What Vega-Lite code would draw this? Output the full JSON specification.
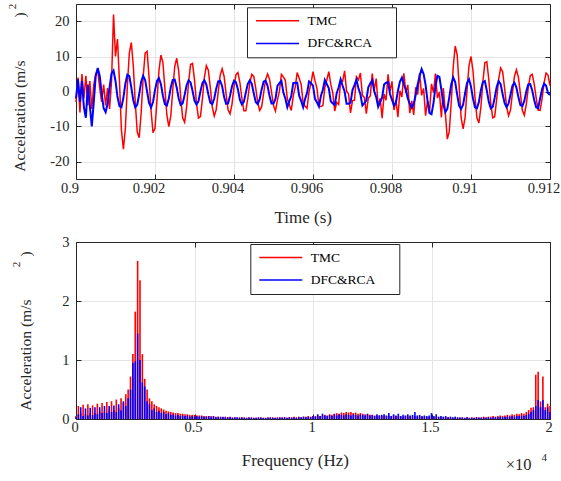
{
  "$schema": "https://vega.github.io/schema/vega-lite/v6.json",
  "autosize": {"type": "pad"},
  "padding": {"left": 6, "top": 3, "right": 0, "bottom": 0},
  "bounds": "flush",
  "spacing": 63,
  "background": "white",
  "config": {
    "font": "Liberation Serif",
    "axis": {
      "domainColor": "#262626", "domainWidth": 1,
      "tickColor": "#262626", "tickSize": -5, "tickWidth": 1,
      "labelFont": "Liberation Serif", "labelFontSize": 14.5, "labelColor": "#262626",
      "titleFont": "Liberation Serif", "titleColor": "#262626", "titleFontWeight": "normal",
      "gridColor": "#e4e4e4", "gridWidth": 1
    },
    "legend": {
      "orient": "none", "titleOrient": "right", "titlePadding": 0, "titleFontSize": 9.6, "titleOpacity": 0, "titleFontWeight": "normal",
      "symbolType": "stroke", "symbolSize": 1849, "symbolStrokeWidth": 1.5, "symbolOffset": 2.5,
      "clipHeight": 16, "rowPadding": 6.6, "padding": 5.5,
      "labelFont": "Liberation Serif", "labelFontSize": 13.5, "labelColor": "#000000", "labelOffset": 7.5,
      "fillColor": "white", "strokeColor": "#262626"
    },
    "view": {"stroke": null}
  },
  "resolve": {"scale": {"color": "independent"}, "legend": {"color": "independent"}},
  "vconcat": [
    {
      "width": 474,
      "height": 175,
      "data": {"values": [
{"t":0.9,"r":-3,"b":-2},{"t":0.90005,"r":4,"b":3.5},{"t":0.9001,"r":-6,"b":-3},{"t":0.90015,"r":5,"b":3},{"t":0.9002,"r":-2,"b":-4.5},
{"t":0.90025,"r":4.5,"b":-7.5},{"t":0.9003,"r":-4,"b":2},{"t":0.90035,"r":3,"b":-4},{"t":0.9004,"r":-5,"b":-10},{"t":0.90045,"r":2,"b":-3},
{"t":0.9005,"r":5,"b":4.5},{"t":0.90055,"r":6,"b":6.7},{"t":0.9006,"r":1,"b":4.5},{"t":0.90065,"r":-3,"b":-0.5},{"t":0.9007,"r":2,"b":-4.8},
{"t":0.90075,"r":-4,"b":-5.9},{"t":0.9008,"r":1,"b":-3.5},{"t":0.90085,"r":-5,"b":1.2},{"t":0.9009,"r":3,"b":5.2},{"t":0.90095,"r":22,"b":6},
{"t":0.901,"r":10,"b":3},{"t":0.90105,"r":15,"b":-1.5},{"t":0.9011,"r":3,"b":-4.2},{"t":0.90115,"r":-11,"b":-4.5},{"t":0.9012,"r":-16.5,"b":-1.8},
{"t":0.90125,"r":-10.5,"b":2.2},{"t":0.9013,"r":1.5,"b":4.8},{"t":0.90135,"r":11,"b":4.4},{"t":0.9014,"r":14,"b":1.2},{"t":0.90145,"r":7.5,"b":-2.5},
{"t":0.9015,"r":-3,"b":-4.5},{"t":0.90155,"r":-11.5,"b":-3.8},{"t":0.9016,"r":-13.2,"b":-0.8},{"t":0.90165,"r":-6,"b":2.8},{"t":0.9017,"r":4,"b":4.5},
{"t":0.90175,"r":11,"b":3.3},{"t":0.9018,"r":11.5,"b":0},{"t":0.90185,"r":4,"b":-3.3},{"t":0.9019,"r":-5.5,"b":-4.6},{"t":0.90195,"r":-11.8,"b":-3},
{"t":0.902,"r":-10.5,"b":0.4},{"t":0.90205,"r":-2.5,"b":3},{"t":0.9021,"r":6,"b":3.8},{"t":0.90215,"r":10.4,"b":2.1},{"t":0.9022,"r":8.3,"b":-1.2},
{"t":0.90225,"r":1,"b":-3.6},{"t":0.9023,"r":-6.7,"b":-4},{"t":0.90235,"r":-10,"b":-2},{"t":0.9024,"r":-7,"b":1.2},{"t":0.90245,"r":0.5,"b":3.3},
{"t":0.9025,"r":7.2,"b":3.4},{"t":0.90255,"r":9.5,"b":1.1},{"t":0.9026,"r":5.8,"b":-2},{"t":0.90265,"r":-1.5,"b":-3.8},{"t":0.9027,"r":-7.5,"b":-3.4},
{"t":0.90275,"r":-8.8,"b":-1},{"t":0.9028,"r":-4.5,"b":1.8},{"t":0.90285,"r":2.5,"b":3.2},{"t":0.9029,"r":7.7,"b":2.6},{"t":0.90295,"r":8,"b":0.2},
{"t":0.903,"r":3.3,"b":-2.6},{"t":0.90305,"r":-3.3,"b":-3.7},{"t":0.9031,"r":-7.6,"b":-2.8},{"t":0.90315,"r":-7.2,"b":0},{"t":0.9032,"r":-2.2,"b":2.4},
{"t":0.90325,"r":4,"b":3.2},{"t":0.9033,"r":7.4,"b":2},{"t":0.90335,"r":6.1,"b":-0.8},{"t":0.9034,"r":1.1,"b":-3.2},{"t":0.90345,"r":-4.4,"b":-3.6},
{"t":0.9035,"r":-7,"b":-2},{"t":0.90355,"r":-5.2,"b":0.8},{"t":0.9036,"r":-0.2,"b":2.9},{"t":0.90365,"r":4.6,"b":3},{"t":0.9037,"r":6.5,"b":1.5},
{"t":0.90375,"r":4.3,"b":-1.6},{"t":0.9038,"r":-0.7,"b":-3.5},{"t":0.90385,"r":-5.2,"b":-3.4},{"t":0.9039,"r":-6.4,"b":-1.2},{"t":0.90395,"r":-3.6,"b":1.5},
{"t":0.904,"r":1.3,"b":3.1},{"t":0.90405,"r":4.8,"b":2.6},{"t":0.9041,"r":5.4,"b":0.6},{"t":0.90415,"r":2.5,"b":-2.4},{"t":0.9042,"r":-2,"b":-3.7},
{"t":0.90425,"r":-5.5,"b":-2.9},{"t":0.9043,"r":-5.5,"b":-0.3},{"t":0.90435,"r":-2,"b":2.2},{"t":0.9044,"r":2.4,"b":3.2},{"t":0.90445,"r":4.9,"b":2.2},
{"t":0.9045,"r":4.3,"b":-0.5},{"t":0.90455,"r":1,"b":-3},{"t":0.9046,"r":-3.1,"b":-3.6},{"t":0.90465,"r":-5.4,"b":-2.2},{"t":0.9047,"r":-4.4,"b":0.6},
{"t":0.90475,"r":-0.5,"b":2.8},{"t":0.9048,"r":3.4,"b":3.1},{"t":0.90485,"r":5,"b":1.6},{"t":0.9049,"r":3.5,"b":-1.3},{"t":0.90495,"r":-0.2,"b":-3.4},
{"t":0.905,"r":-4,"b":-3.4},{"t":0.90505,"r":-5.6,"b":-2.1},{"t":0.9051,"r":-2.4,"b":1.6},{"t":0.90515,"r":0.1,"b":2.4},{"t":0.9052,"r":4.9,"b":3},
{"t":0.90525,"r":4.2,"b":-0.3},{"t":0.9053,"r":3.2,"b":-2},{"t":0.90535,"r":-2.1,"b":-4.5},{"t":0.9054,"r":-3.8,"b":-2.8},{"t":0.90545,"r":-5.4,"b":-1.3},
{"t":0.9055,"r":-1.3,"b":2.4},{"t":0.90555,"r":1.3,"b":2.5},{"t":0.9056,"r":5.4,"b":2.5},{"t":0.90565,"r":3.8,"b":-1.2},{"t":0.9057,"r":2.1,"b":-2.7},
{"t":0.90575,"r":-3.3,"b":-4.5},{"t":0.9058,"r":-4.2,"b":-2.1},{"t":0.90585,"r":-4.8,"b":-0.4},{"t":0.9059,"r":0,"b":2.9},{"t":0.90595,"r":2.4,"b":2.4},
{"t":0.906,"r":5.7,"b":1.7},{"t":0.90605,"r":3.1,"b":-2.1},{"t":0.9061,"r":0.9,"b":-3.1},{"t":0.90615,"r":-4.2,"b":-4.3},{"t":0.9062,"r":-4.3,"b":-1.3},
{"t":0.90625,"r":-4,"b":0.5},{"t":0.9063,"r":1.2,"b":3.3},{"t":0.90635,"r":3.3,"b":2.1},{"t":0.9064,"r":5.7,"b":0.9},{"t":0.90645,"r":2.1,"b":-2.8},
{"t":0.9065,"r":-0.4,"b":-3.4},{"t":0.90655,"r":-5.6,"b":-3.8},{"t":0.9066,"r":-3.1,"b":-0.5},{"t":0.90665,"r":-3.7,"b":1.2},{"t":0.9067,"r":3.1,"b":3.5},
{"t":0.90675,"r":2.9,"b":1.6},{"t":0.9068,"r":5.9,"b":0},{"t":0.90685,"r":0.1,"b":-3.5},{"t":0.9069,"r":-0.7,"b":-3.5},{"t":0.90695,"r":-6.1,"b":-3.2},
{"t":0.907,"r":-2.6,"b":0.4},{"t":0.90705,"r":-2.5,"b":1.8},{"t":0.9071,"r":4.2,"b":3.4},{"t":0.90715,"r":3.3,"b":0.9},{"t":0.9072,"r":5.3,"b":-0.8},
{"t":0.90725,"r":-1.1,"b":-4},{"t":0.9073,"r":-1.7,"b":-3.3},{"t":0.90735,"r":-6.3,"b":-2.5},{"t":0.9074,"r":-1.9,"b":1.2},{"t":0.90745,"r":-1.3,"b":2.3},
{"t":0.9075,"r":5.1,"b":3.2},{"t":0.90755,"r":0.3,"b":0.1},{"t":0.9076,"r":3.7,"b":-1.6},{"t":0.90765,"r":-4.3,"b":-4.4},{"t":0.9077,"r":-2,"b":-3},
{"t":0.90775,"r":-7.6,"b":-1.7},{"t":0.9078,"r":-0.7,"b":2},{"t":0.90785,"r":-2.5,"b":2.5},{"t":0.9079,"r":4.9,"b":2.7},{"t":0.90795,"r":0.1,"b":-0.7},
{"t":0.908,"r":2.9,"b":-2.4},{"t":0.90805,"r":-5.3,"b":-4},{"t":0.9081,"r":-2.5,"b":-3.2},{"t":0.90815,"r":-7.3,"b":0.2},{"t":0.9082,"r":0.2,"b":2.8},
{"t":0.90825,"r":-1.6,"b":4},{"t":0.9083,"r":5.2,"b":2},{"t":0.90835,"r":-0.4,"b":0.5},{"t":0.9084,"r":1.9,"b":-2},{"t":0.90845,"r":-6.2,"b":-3.5},
{"t":0.9085,"r":-2.7,"b":-4.6},{"t":0.90855,"r":-6.7,"b":-3.5},{"t":0.9086,"r":1.2,"b":-1},{"t":0.90865,"r":-0.9,"b":2},{"t":0.9087,"r":5.3,"b":4.5},
{"t":0.90875,"r":-1.1,"b":6.4},{"t":0.9088,"r":0.9,"b":5},{"t":0.90885,"r":-6.9,"b":1.9},{"t":0.9089,"r":-2.7,"b":-2.7},{"t":0.90895,"r":-5.9,"b":-6.2},
{"t":0.909,"r":2.2,"b":-6.5},{"t":0.90905,"r":-0.3,"b":-3.3},{"t":0.9091,"r":5.1,"b":1.4},{"t":0.90915,"r":-1.9,"b":4.5},{"t":0.9092,"r":-0.1,"b":4.2},
{"t":0.90925,"r":-7.4,"b":0.5},{"t":0.9093,"r":1,"b":-3.6},{"t":0.90935,"r":-6,"b":-5.9},{"t":0.9094,"r":-13.6,"b":-5},{"t":0.90945,"r":-11.5,"b":-1.7},
{"t":0.9095,"r":-3,"b":2.1},{"t":0.90955,"r":7,"b":4},{"t":0.9096,"r":13,"b":2.7},{"t":0.90965,"r":10.5,"b":-0.9},{"t":0.9097,"r":1.5,"b":-4.1},
{"t":0.90975,"r":-7.5,"b":-5},{"t":0.9098,"r":-10.7,"b":-3.8},{"t":0.90985,"r":-7.5,"b":-0.5},{"t":0.9099,"r":0.5,"b":2.5},{"t":0.90995,"r":7.5,"b":3.5},
{"t":0.91,"r":10,"b":1.4},{"t":0.91005,"r":6,"b":-2},{"t":0.9101,"r":-1.5,"b":-4.5},{"t":0.91015,"r":-7.5,"b":-4.8},{"t":0.9102,"r":-9,"b":-3},
{"t":0.91025,"r":-4.5,"b":0.4},{"t":0.9103,"r":2.6,"b":2.7},{"t":0.91035,"r":8.2,"b":3},{"t":0.9104,"r":8.5,"b":0.3},{"t":0.91045,"r":3.5,"b":-2.9},
{"t":0.9105,"r":-3.3,"b":-4.8},{"t":0.91055,"r":-7.5,"b":-4.4},{"t":0.9106,"r":-7.2,"b":-1.8},{"t":0.91065,"r":-2.2,"b":1.3},{"t":0.9107,"r":3.5,"b":3},
{"t":0.91075,"r":6.7,"b":2.1},{"t":0.9108,"r":5.7,"b":-0.7},{"t":0.91085,"r":1,"b":-3.3},{"t":0.9109,"r":-4.2,"b":-4.5},{"t":0.91095,"r":-6.9,"b":-3.5},
{"t":0.911,"r":-5.3,"b":-0.9},{"t":0.91105,"r":-0.3,"b":1.7},{"t":0.9111,"r":4.3,"b":2.5},{"t":0.91115,"r":6.2,"b":1.1},{"t":0.9112,"r":4.1,"b":-1.6},
{"t":0.91125,"r":-0.6,"b":-3.9},{"t":0.9113,"r":-5.4,"b":-4.2},{"t":0.91135,"r":-6.8,"b":-2.7},{"t":0.9114,"r":-3.7,"b":0},{"t":0.91145,"r":1.1,"b":2},
{"t":0.9115,"r":4.5,"b":2.1},{"t":0.91155,"r":4.9,"b":0.3},{"t":0.9116,"r":2.2,"b":-2.4},{"t":0.91165,"r":-1.8,"b":-4.5},{"t":0.9117,"r":-5.3,"b":-4.8},
{"t":0.91175,"r":-5.4,"b":-2},{"t":0.9118,"r":-2,"b":0.7},{"t":0.91185,"r":2.5,"b":2.2},{"t":0.9119,"r":5.3,"b":1.7},{"t":0.91195,"r":4.7,"b":-0.5},
{"t":0.912,"r":1.7,"b":-1}
      ]},
      "layer": [
        {
          "mark": {"type": "line", "strokeWidth": 1.5},
          "encoding": {
            "x": {"field": "t", "type": "quantitative",
              "scale": {"domain": [0.9, 0.912], "nice": false, "zero": false},
              "axis": {"values": [0.9, 0.902, 0.904, 0.906, 0.908, 0.91, 0.912], "format": ".3~f",
                "labelFlush": false, "labelOffset": -6.5, "labelBaseline": "alphabetic", "labelPadding": 18.3,
                "title": "Time (s)", "titleFontSize": 17, "titleX": 226.7, "titleY": 43.5, "titleBaseline": "alphabetic", "titleAlign": "center",
                "grid": true}},
            "y": {"field": "r", "type": "quantitative",
              "scale": {"domain": [-25, 25], "nice": false, "zero": false},
              "axis": {"values": [-20, -10, 0, 10, 20], "labelExpr": "'' + datum.value", "labelPadding": 12,
                "title": "Acceleration (m/s\u00a0\u00a0\u00a0\u00a0\u00a0\u00a0\u00a0\u00a0\u00a0\u00a0\u00a0)", "titleFontSize": 15.6,
                "titleX": -52, "titleY": 87.5, "titleAngle": -90, "titleBaseline": "alphabetic", "titleAlign": "center",
                "grid": true}},
            "color": {"datum": "TMC", "type": "nominal",
              "scale": {"domain": ["TMC", "DFC&RCA"], "range": ["#ff0000", "#0000ff"]},
              "legend": {"title": "MM", "legendX": 171, "legendY": 3.3}}
          }
        },
        {
          "mark": {"type": "line", "strokeWidth": 2},
          "encoding": {
            "x": {"field": "t", "type": "quantitative",
              "axis": {"orient": "top", "values": [0.9, 0.902, 0.904, 0.906, 0.908, 0.91, 0.912], "labels": false, "title": null, "grid": false}},
            "y": {"field": "b", "type": "quantitative",
              "axis": {"orient": "right", "values": [-20, -10, 0, 10, 20], "labels": false, "grid": false,
                "title": "2", "titleFontSize": 11, "titleX": -537.5, "titleY": 2, "titleAngle": -90, "titleBaseline": "middle", "titleAlign": "center"}},
            "color": {"datum": "DFC&RCA", "type": "nominal"}
          }
        }
      ],
      "resolve": {"axis": {"x": "independent", "y": "independent"}}
    },
    {
      "width": 474,
      "height": 177,
      "title": {"text": "4", "orient": "top", "frame": "group", "anchor": "end", "align": "center", "baseline": "middle",
        "offset": 0, "dx": -5.7, "dy": 235, "fontSize": 11, "fontWeight": "normal", "font": "Liberation Serif", "color": "#262626"},
      "data": {"values": [
{"f":0,"r":0.05,"b":0.03},{"f":100,"r":0.22,"b":0.08},{"f":200,"r":0.1,"b":0.2},{"f":300,"r":0.24,"b":0.05},{"f":400,"r":0.08,"b":0.18},
{"f":500,"r":0.25,"b":0.06},{"f":600,"r":0.1,"b":0.19},{"f":700,"r":0.23,"b":0.07},{"f":800,"r":0.1,"b":0.2},{"f":900,"r":0.26,"b":0.08},
{"f":1000,"r":0.12,"b":0.2},{"f":1100,"r":0.27,"b":0.1},{"f":1200,"r":0.12,"b":0.22},{"f":1300,"r":0.29,"b":0.1},{"f":1400,"r":0.14,"b":0.22},
{"f":1500,"r":0.3,"b":0.12},{"f":1600,"r":0.15,"b":0.23},{"f":1700,"r":0.33,"b":0.12},{"f":1800,"r":0.18,"b":0.25},{"f":1900,"r":0.35,"b":0.15},
{"f":2000,"r":0.28,"b":0.3},{"f":2100,"r":0.42,"b":0.22},{"f":2200,"r":0.5,"b":0.35},{"f":2300,"r":0.72,"b":0.5},{"f":2400,"r":1.1,"b":0.95},
{"f":2500,"r":1.82,"b":0.98},{"f":2600,"r":2.68,"b":1.45},{"f":2700,"r":2.35,"b":1.0},{"f":2800,"r":1.1,"b":0.62},{"f":2900,"r":0.68,"b":0.55},
{"f":3000,"r":0.5,"b":0.3},{"f":3100,"r":0.35,"b":0.25},{"f":3200,"r":0.3,"b":0.15},{"f":3300,"r":0.25,"b":0.18},{"f":3400,"r":0.22,"b":0.12},
{"f":3500,"r":0.2,"b":0.14},{"f":3600,"r":0.18,"b":0.1},{"f":3700,"r":0.16,"b":0.12},{"f":3800,"r":0.14,"b":0.08},{"f":3900,"r":0.13,"b":0.1},
{"f":4000,"r":0.12,"b":0.07},{"f":4100,"r":0.11,"b":0.08},{"f":4200,"r":0.1,"b":0.06},{"f":4300,"r":0.1,"b":0.07},{"f":4400,"r":0.09,"b":0.05},
{"f":4500,"r":0.09,"b":0.06},{"f":4600,"r":0.08,"b":0.05},{"f":4700,"r":0.08,"b":0.06},{"f":4800,"r":0.07,"b":0.04},{"f":4900,"r":0.07,"b":0.05},
{"f":5000,"r":0.07,"b":0.04},{"f":5100,"r":0.06,"b":0.05},{"f":5200,"r":0.06,"b":0.04},{"f":5300,"r":0.06,"b":0.05},{"f":5400,"r":0.05,"b":0.04},
{"f":5500,"r":0.05,"b":0.04},{"f":5600,"r":0.05,"b":0.05},{"f":5700,"r":0.05,"b":0.03},{"f":5800,"r":0.04,"b":0.05},{"f":5900,"r":0.04,"b":0.03},
{"f":6000,"r":0.04,"b":0.04},{"f":6100,"r":0.04,"b":0.03},{"f":6200,"r":0.03,"b":0.04},{"f":6300,"r":0.04,"b":0.03},{"f":6400,"r":0.03,"b":0.03},
{"f":6500,"r":0.03,"b":0.04},{"f":6600,"r":0.03,"b":0.02},{"f":6700,"r":0.03,"b":0.03},{"f":6800,"r":0.02,"b":0.03},{"f":6900,"r":0.03,"b":0.02},
{"f":7000,"r":0.02,"b":0.03},{"f":7100,"r":0.03,"b":0.02},{"f":7200,"r":0.02,"b":0.02},{"f":7300,"r":0.02,"b":0.03},{"f":7400,"r":0.03,"b":0.02},
{"f":7500,"r":0.02,"b":0.02},{"f":7600,"r":0.02,"b":0.02},{"f":7700,"r":0.02,"b":0.03},{"f":7800,"r":0.03,"b":0.02},{"f":7900,"r":0.02,"b":0.02},
{"f":8000,"r":0.02,"b":0.02},{"f":8100,"r":0.03,"b":0.02},{"f":8200,"r":0.02,"b":0.03},{"f":8300,"r":0.03,"b":0.02},{"f":8400,"r":0.02,"b":0.02},
{"f":8500,"r":0.03,"b":0.02},{"f":8600,"r":0.02,"b":0.03},{"f":8700,"r":0.03,"b":0.02},{"f":8800,"r":0.03,"b":0.03},{"f":8900,"r":0.02,"b":0.02},
{"f":9000,"r":0.03,"b":0.03},{"f":9100,"r":0.03,"b":0.02},{"f":9200,"r":0.04,"b":0.03},{"f":9300,"r":0.03,"b":0.02},{"f":9400,"r":0.04,"b":0.03},
{"f":9500,"r":0.03,"b":0.03},{"f":9600,"r":0.04,"b":0.04},{"f":9700,"r":0.04,"b":0.03},{"f":9800,"r":0.05,"b":0.04},{"f":9900,"r":0.04,"b":0.03},
{"f":10000,"r":0.05,"b":0.05},{"f":10100,"r":0.05,"b":0.04},{"f":10200,"r":0.06,"b":0.08},{"f":10300,"r":0.05,"b":0.05},{"f":10400,"r":0.06,"b":0.09},
{"f":10500,"r":0.07,"b":0.06},{"f":10600,"r":0.06,"b":0.05},{"f":10700,"r":0.08,"b":0.07},{"f":10800,"r":0.07,"b":0.05},{"f":10900,"r":0.09,"b":0.08},
{"f":11000,"r":0.1,"b":0.06},{"f":11100,"r":0.09,"b":0.08},{"f":11200,"r":0.11,"b":0.07},{"f":11300,"r":0.1,"b":0.06},{"f":11400,"r":0.12,"b":0.08},
{"f":11500,"r":0.11,"b":0.07},{"f":11600,"r":0.12,"b":0.06},{"f":11700,"r":0.1,"b":0.08},{"f":11800,"r":0.11,"b":0.07},{"f":11900,"r":0.09,"b":0.06},
{"f":12000,"r":0.1,"b":0.08},{"f":12100,"r":0.09,"b":0.07},{"f":12200,"r":0.08,"b":0.06},{"f":12300,"r":0.08,"b":0.09},{"f":12400,"r":0.07,"b":0.06},
{"f":12500,"r":0.07,"b":0.07},{"f":12600,"r":0.06,"b":0.05},{"f":12700,"r":0.06,"b":0.08},{"f":12800,"r":0.06,"b":0.06},{"f":12900,"r":0.05,"b":0.07},
{"f":13000,"r":0.06,"b":0.08},{"f":13100,"r":0.05,"b":0.06},{"f":13200,"r":0.05,"b":0.1},{"f":13300,"r":0.05,"b":0.05},{"f":13400,"r":0.06,"b":0.08},
{"f":13500,"r":0.05,"b":0.06},{"f":13600,"r":0.05,"b":0.09},{"f":13700,"r":0.05,"b":0.05},{"f":13800,"r":0.04,"b":0.07},{"f":13900,"r":0.05,"b":0.06},
{"f":14000,"r":0.04,"b":0.08},{"f":14100,"r":0.05,"b":0.06},{"f":14200,"r":0.04,"b":0.07},{"f":14300,"r":0.05,"b":0.12},{"f":14400,"r":0.04,"b":0.06},
{"f":14500,"r":0.04,"b":0.07},{"f":14600,"r":0.04,"b":0.05},{"f":14700,"r":0.04,"b":0.06},{"f":14800,"r":0.03,"b":0.05},{"f":14900,"r":0.04,"b":0.06},
{"f":15000,"r":0.04,"b":0.1},{"f":15100,"r":0.03,"b":0.05},{"f":15200,"r":0.04,"b":0.08},{"f":15300,"r":0.03,"b":0.04},{"f":15400,"r":0.04,"b":0.05},
{"f":15500,"r":0.03,"b":0.04},{"f":15600,"r":0.03,"b":0.05},{"f":15700,"r":0.03,"b":0.03},{"f":15800,"r":0.03,"b":0.04},{"f":15900,"r":0.02,"b":0.03},
{"f":16000,"r":0.03,"b":0.04},{"f":16100,"r":0.02,"b":0.03},{"f":16200,"r":0.03,"b":0.02},{"f":16300,"r":0.02,"b":0.03},{"f":16400,"r":0.02,"b":0.02},
{"f":16500,"r":0.03,"b":0.03},{"f":16600,"r":0.02,"b":0.02},{"f":16700,"r":0.03,"b":0.02},{"f":16800,"r":0.02,"b":0.02},{"f":16900,"r":0.03,"b":0.03},
{"f":17000,"r":0.03,"b":0.02},{"f":17100,"r":0.03,"b":0.02},{"f":17200,"r":0.04,"b":0.03},{"f":17300,"r":0.03,"b":0.02},{"f":17400,"r":0.04,"b":0.03},
{"f":17500,"r":0.04,"b":0.02},{"f":17600,"r":0.05,"b":0.03},{"f":17700,"r":0.04,"b":0.03},{"f":17800,"r":0.05,"b":0.03},{"f":17900,"r":0.06,"b":0.04},
{"f":18000,"r":0.05,"b":0.03},{"f":18100,"r":0.06,"b":0.04},{"f":18200,"r":0.07,"b":0.04},{"f":18300,"r":0.06,"b":0.04},{"f":18400,"r":0.08,"b":0.05},
{"f":18500,"r":0.07,"b":0.04},{"f":18600,"r":0.09,"b":0.05},{"f":18700,"r":0.08,"b":0.05},{"f":18800,"r":0.1,"b":0.06},{"f":18900,"r":0.09,"b":0.05},
{"f":19000,"r":0.12,"b":0.07},{"f":19100,"r":0.15,"b":0.09},{"f":19200,"r":0.19,"b":0.12},{"f":19300,"r":0.2,"b":0.15},{"f":19400,"r":0.75,"b":0.22},
{"f":19500,"r":0.8,"b":0.32},{"f":19600,"r":0.3,"b":0.2},{"f":19700,"r":0.72,"b":0.32},{"f":19800,"r":0.2,"b":0.15},{"f":19900,"r":0.26,"b":0.2},
{"f":20000,"r":0.22,"b":0.12}
      ]},
      "layer": [
        {
          "mark": {"type": "rule", "strokeWidth": 1.6},
          "encoding": {
            "x": {"field": "f", "type": "quantitative",
              "scale": {"domain": [0, 20000], "nice": false, "zero": false},
              "axis": {"values": [0, 5000, 10000, 15000, 20000], "labelExpr": "'' + (datum.value / 10000)",
                "labelFlush": false, "labelOffset": -1.5, "labelBaseline": "alphabetic", "labelPadding": 17.6,
                "title": "Frequency (Hz)", "titleFontSize": 17, "titleX": 218.8, "titleY": 46, "titleBaseline": "alphabetic", "titleAlign": "center",
                "grid": true}},
            "y": {"field": "r", "type": "quantitative",
              "scale": {"domain": [0, 3], "nice": false, "zero": true},
              "axis": {"values": [0, 1, 2, 3], "labelExpr": "'' + datum.value", "labelPadding": 12,
                "title": "Acceleration (m/s\u00a0\u00a0\u00a0\u00a0\u00a0\u00a0\u00a0\u00a0\u00a0\u00a0\u00a0)", "titleFontSize": 15.6,
                "titleX": -46, "titleY": 88.5, "titleAngle": -90, "titleBaseline": "alphabetic", "titleAlign": "center",
                "grid": true}},
            "y2": {"datum": 0},
            "color": {"datum": "TMC", "type": "nominal",
              "scale": {"domain": ["TMC", "DFC&RCA"], "range": ["#ff0000", "#0000ff"]},
              "legend": {"title": "MM", "legendX": 174.3, "legendY": 2}}
          }
        },
        {
          "mark": {"type": "rule", "strokeWidth": 1.6},
          "encoding": {
            "x": {"field": "f", "type": "quantitative",
              "axis": {"orient": "top", "values": [0, 5000, 10000, 15000, 20000], "labels": false, "grid": false,
                "title": "×10", "titleFontSize": 16.5, "titleX": 429.3, "titleY": 227, "titleBaseline": "alphabetic", "titleAlign": "left", "titleAngle": 0}},
            "y": {"field": "b", "type": "quantitative",
              "axis": {"orient": "right", "values": [0, 1, 2, 3], "labels": false, "grid": false,
                "title": "2", "titleFontSize": 11, "titleX": -533.2, "titleY": 22, "titleAngle": -90, "titleBaseline": "middle", "titleAlign": "center"}},
            "y2": {"datum": 0},
            "color": {"datum": "DFC&RCA", "type": "nominal"}
          }
        }
      ],
      "resolve": {"axis": {"x": "independent", "y": "independent"}}
    }
  ]
}
